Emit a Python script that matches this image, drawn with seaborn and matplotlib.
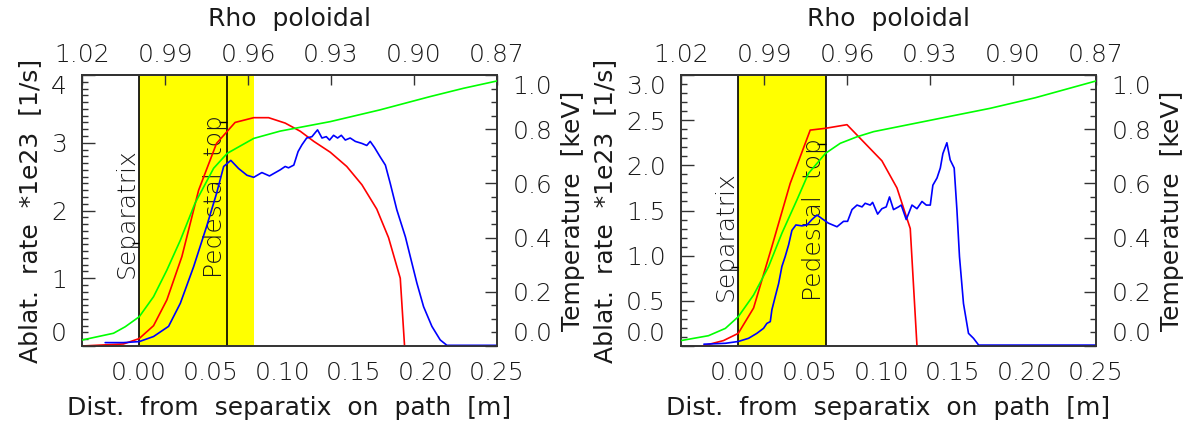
import numpy as np
import pandas as pd
import matplotlib
matplotlib.use('Agg')
import matplotlib.pyplot as plt
from matplotlib.ticker import FixedLocator, MultipleLocator
import seaborn as sns

# ---- panel A (left) ----
a_red_x = [-0.040, -0.011, 0.000, 0.010, 0.0193, 0.0298, 0.0415, 0.054, 0.067, 0.080, 0.0904,
           0.102, 0.1125, 0.122, 0.1335, 0.145, 0.1556, 0.166, 0.1742, 0.1824, 0.1854]
a_red_y = [0.00, 0.03, 0.11, 0.30, 0.68, 1.32, 2.30, 2.99, 3.30, 3.37, 3.37,
           3.29, 3.17, 3.02, 2.86, 2.65, 2.38, 2.02, 1.60, 1.00, 0.00]

a_blue_x = [-0.0238, -0.011, 0.000, 0.010, 0.0205, 0.0287, 0.038, 0.047, 0.054, 0.059, 0.064,
            0.0694, 0.0753, 0.080, 0.0857, 0.091, 0.0985, 0.102, 0.1043, 0.108, 0.111, 0.1137,
            0.117, 0.1207, 0.123, 0.1246, 0.1277, 0.1307, 0.133, 0.1358, 0.1386, 0.1412, 0.144,
            0.1474, 0.151, 0.1556, 0.159, 0.1614, 0.1644, 0.1684, 0.172, 0.1754, 0.180, 0.186,
            0.1894, 0.194, 0.1987, 0.2045, 0.2103, 0.215, 0.250]
a_blue_y = [0.05, 0.05, 0.065, 0.14, 0.29, 0.63, 1.17, 1.76, 2.25, 2.65, 2.74,
            2.62, 2.52, 2.49, 2.56, 2.51, 2.60, 2.65, 2.63, 2.67, 2.87, 2.97,
            3.07, 3.09, 3.15, 3.19, 3.07, 3.09, 3.04, 3.11, 3.07, 3.11, 3.04,
            3.07, 3.02, 2.99, 2.96, 3.02, 2.93, 2.79, 2.67, 2.40, 2.01, 1.61,
            1.32, 0.93, 0.58, 0.29, 0.09, 0.01, 0.01]

a_te_x = [-0.040, -0.018, -0.0098, 0.000, 0.010, 0.0193, 0.0287, 0.039, 0.052, 0.0615, 0.080,
          0.0985, 0.1335, 0.168, 0.203, 0.2266, 0.250]
a_te_y = [0.022, 0.047, 0.071, 0.108, 0.182, 0.280, 0.390, 0.527, 0.656, 0.711, 0.766,
          0.793, 0.828, 0.871, 0.920, 0.951, 0.978]

# ---- panel B (right) ----
b_red_x = [-0.025, -0.0103, 0.000, 0.0107, 0.0235, 0.0363, 0.0503, 0.061, 0.076,
           0.1004, 0.1109, 0.1202, 0.1249]
b_red_y = [0.00, 0.06, 0.14, 0.42, 1.10, 1.80, 2.39, 2.41, 2.45,
           2.05, 1.75, 1.30, 0.00]

b_blue_x = [-0.024, -0.009, 0.000, 0.0072, 0.013, 0.0177, 0.020, 0.0224, 0.0235, 0.0259, 0.0282,
            0.0305, 0.0328, 0.0352, 0.0375, 0.0403, 0.0445, 0.048, 0.0515, 0.055, 0.0585, 0.063,
            0.069, 0.0736, 0.0764, 0.0795, 0.083, 0.0865, 0.0887, 0.0922, 0.0939, 0.0974, 0.1004,
            0.1034, 0.1057, 0.1085, 0.112, 0.1139, 0.1174, 0.1214, 0.1249, 0.1284, 0.1314, 0.1342,
            0.136, 0.1389, 0.1412, 0.143, 0.1458, 0.1481, 0.1509, 0.1528, 0.1546, 0.1574, 0.1609,
            0.1644, 0.168, 0.250]
b_blue_y = [0.02, 0.03, 0.05, 0.085, 0.14, 0.196, 0.25, 0.27, 0.40, 0.55, 0.69,
            0.88, 0.99, 1.12, 1.28, 1.34, 1.33, 1.34, 1.40, 1.45, 1.41, 1.36,
            1.32, 1.38, 1.38, 1.51, 1.56, 1.54, 1.58, 1.56, 1.59, 1.46, 1.52,
            1.54, 1.65, 1.51, 1.54, 1.56, 1.40, 1.56, 1.52, 1.60, 1.56, 1.56,
            1.78, 1.86, 1.97, 2.13, 2.25, 2.06, 1.97, 1.51, 0.99, 0.47, 0.14,
            0.085, 0.01, 0.01]

b_te_x = [-0.040, -0.0208, -0.009, 0.000, 0.0107, 0.0212, 0.0305, 0.041, 0.0491, 0.061, 0.0713,
          0.083, 0.0946, 0.139, 0.176, 0.2075, 0.250]
b_te_y = [0.020, 0.038, 0.065, 0.108, 0.188, 0.293, 0.416, 0.539, 0.637, 0.711, 0.748,
          0.772, 0.791, 0.838, 0.877, 0.916, 0.978]

# region markers: separatrix, pedestal top, end of shaded band
separatrix = [0.0, 0.0]
pedestal_top = [0.0615, 0.061]
band_end = [0.080, 0.061]
rate_max = [4.0, 3.0]
rate_ticks = [[0, 1, 2, 3, 4], [0.0, 0.5, 1.0, 1.5, 2.0, 2.5, 3.0]]
rate_fmt = ['{:.0f}', '{:.1f}']
rate_minor = [0.1, 0.1]
text_y = [1.0, 0.5]
sep_mark_y = [1.52, 0.875]
ped_mark_y = [3.31, 2.24]

x_ticks = [0.00, 0.05, 0.10, 0.15, 0.20, 0.25]
rho_ticks = [1.02, 0.99, 0.96, 0.93, 0.90, 0.87]
te_ticks = [0.0, 0.2, 0.4, 0.6, 0.8, 1.0]
x_lim = (-0.04, 0.25)
rho_lim = (1.02, 0.87)

sns.set_theme(style='white')
plt.rcParams['font.family'] = ['DejaVu Sans']
plt.rcParams['font.weight'] = 'light'
plt.rcParams['axes.linewidth'] = 1.2
plt.rcParams['axes.edgecolor'] = '#333333'
plt.rcParams['xtick.direction'] = 'in'
plt.rcParams['ytick.direction'] = 'in'
plt.rcParams['xtick.major.pad'] = 6
plt.rcParams['xtick.major.size'] = 7
plt.rcParams['xtick.major.width'] = 1.0
plt.rcParams['xtick.color'] = '#333333'

FS = 18
TXT = '#1a1a1a'

fig = plt.figure(figsize=(11.91, 4.32), dpi=100)
lefts = [82 / 1191, 681 / 1191]
W = 415 / 1191
B = 1 - 346 / 432
H = 271 / 432

panels = [
    (a_red_x, a_red_y, a_blue_x, a_blue_y, a_te_x, a_te_y),
    (b_red_x, b_red_y, b_blue_x, b_blue_y, b_te_x, b_te_y),
]


def x_to_rho(x):
    return rho_lim[0] + (np.asarray(x) - x_lim[0]) * (rho_lim[1] - rho_lim[0]) / (x_lim[1] - x_lim[0])


def rho_to_x(r):
    return x_lim[0] + (np.asarray(r) - rho_lim[0]) * (x_lim[1] - x_lim[0]) / (rho_lim[1] - rho_lim[0])


def nudge_ends(labels):
    labels[0].set_va('bottom')
    labels[-1].set_va('top')


for i, (rx, ry, bx, by, tx, ty) in enumerate(panels):
    ax = fig.add_axes([lefts[i], B, W, H])
    ax2 = ax.twinx()

    ax.axvspan(separatrix[i], band_end[i], color='#ffff00', lw=0, zorder=0)
    ax.axvline(separatrix[i], color='black', lw=1.2, zorder=1)
    ax.axvline(pedestal_top[i], color='black', lw=1.2, zorder=1)
    ax.hlines([sep_mark_y[i]], separatrix[i] - 0.005, separatrix[i], color='black', lw=1.0)
    ax.hlines([ped_mark_y[i]], pedestal_top[i] - 0.006, pedestal_top[i], color='black', lw=1.0)

    ax.text(separatrix[i], text_y[i], 'Separatrix', rotation=90, ha='right', va='bottom',
            fontsize=FS, color=TXT, zorder=2)
    ax.text(pedestal_top[i], text_y[i], 'Pedestal  top', rotation=90, ha='right', va='bottom',
            fontsize=FS, color=TXT, zorder=2)

    df_r = pd.DataFrame({'x': rx, 'y': ry})
    df_b = pd.DataFrame({'x': bx, 'y': by})
    df_t = pd.DataFrame({'x': tx, 'y': ty})
    sns.lineplot(data=df_r, x='x', y='y', ax=ax, color='#ff0000', lw=1.2, sort=False, estimator=None, zorder=3)
    sns.lineplot(data=df_b, x='x', y='y', ax=ax, color='#0000ff', lw=1.2, sort=False, estimator=None, zorder=3)
    sns.lineplot(data=df_t, x='x', y='y', ax=ax2, color='#00ff00', lw=1.2, sort=False, estimator=None, zorder=3)

    ax.set_xlim(*x_lim)
    ax.set_ylim(0, rate_max[i])
    ax2.set_ylim(0, 1)

    ax.xaxis.set_major_locator(FixedLocator(x_ticks))
    ax.set_xticklabels(['{:.2f}'.format(v) for v in x_ticks])
    ax.xaxis.set_minor_locator(MultipleLocator(0.01))
    ax.yaxis.set_major_locator(FixedLocator(rate_ticks[i]))
    ax.set_yticklabels([rate_fmt[i].format(v) for v in rate_ticks[i]])
    ax.yaxis.set_minor_locator(MultipleLocator(rate_minor[i]))
    ax2.yaxis.set_major_locator(FixedLocator(te_ticks))
    ax2.set_yticklabels(['{:.1f}'.format(v) for v in te_ticks])
    ax2.yaxis.set_minor_locator(MultipleLocator(0.05))

    ax.tick_params(which='both', direction='in', top=False, right=False, labelsize=FS,
                   labelcolor=TXT, color='#333333', width=1.0)
    ax.tick_params(which='major', length=9, pad=11)
    ax.tick_params(which='minor', length=4.5)
    ax2.tick_params(which='both', direction='in', labelsize=FS, labelcolor=TXT,
                    color='#333333', width=1.0)
    ax2.tick_params(which='major', length=9, pad=11)
    ax2.tick_params(which='minor', length=4.5)

    nudge_ends(ax.get_yticklabels())
    nudge_ends(ax2.get_yticklabels())

    top = ax.secondary_xaxis('top', functions=(x_to_rho, rho_to_x))
    top.xaxis.set_major_locator(FixedLocator(rho_ticks))
    top.set_xticklabels(['{:.2f}'.format(v) for v in rho_ticks])
    top.tick_params(direction='in', length=7, width=1.0, color='#333333', labelsize=FS,
                    labelcolor=TXT, pad=6)
    top.set_xlabel('Rho  poloidal', fontsize=FS, color=TXT, labelpad=12)

    ax.set_xlabel('Dist.  from  separatix  on  path  [m]', fontsize=FS, color=TXT, labelpad=8)
    ax.set_ylabel('Ablat.  rate  *1e23  [1/s]', fontsize=FS, color=TXT, labelpad=6)
    ax2.set_ylabel('Temperature  [keV]', fontsize=FS, color=TXT, labelpad=6)

fig.savefig('out.png', dpi=100)
